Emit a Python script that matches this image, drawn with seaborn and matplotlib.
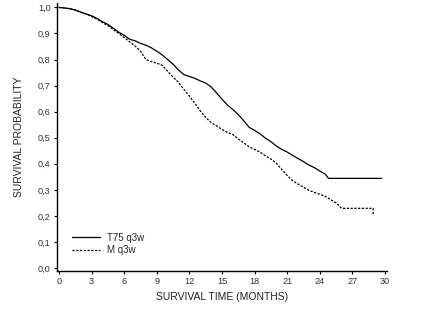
import matplotlib
matplotlib.use("Agg")
import matplotlib.pyplot as plt
import seaborn as sns
import pandas as pd
from matplotlib.lines import Line2D

# T75 q3w (solid) survival curve
t75_time = [0, 0.5, 1, 1.5, 2, 2.5, 3, 3.5, 4, 4.5, 5, 5.5, 6, 6.5, 7, 7.5, 8, 8.5, 9, 9.5,
            10, 10.5, 11, 11.5, 12, 12.5, 13, 13.5, 14, 14.5, 15, 15.5, 16, 16.5, 17, 17.5,
            18, 18.5, 19, 19.5, 20, 20.5, 21, 21.5, 22, 22.5, 23, 23.5, 24, 24.5, 24.8, 29.7]
t75_surv = [1.0, 0.998, 0.995, 0.99, 0.982, 0.975, 0.968, 0.958, 0.945, 0.935, 0.92, 0.905,
            0.893, 0.878, 0.872, 0.862, 0.855, 0.845, 0.832, 0.818, 0.8, 0.782, 0.76, 0.742,
            0.735, 0.728, 0.718, 0.71, 0.695, 0.672, 0.648, 0.625, 0.608, 0.588, 0.565, 0.54,
            0.528, 0.515, 0.498, 0.485, 0.468, 0.455, 0.445, 0.432, 0.42, 0.408, 0.395, 0.385,
            0.372, 0.36, 0.344, 0.344]

# M q3w (dashed)
m_time = [0, 0.5, 1, 1.5, 2, 2.5, 3, 3.5, 4, 4.5, 5, 5.5, 6, 6.5, 7, 7.5, 8, 8.5, 9, 9.5,
          10, 10.5, 11, 11.5, 12, 12.5, 13, 13.5, 14, 14.5, 15, 15.5, 16, 16.5, 17, 17.5,
          18, 18.5, 19, 19.5, 20, 20.5, 21, 21.5, 22, 22.5, 23, 23.5, 24, 24.5, 25, 25.5,
          26.0, 28.9, 28.9]
m_surv = [1.0, 0.998, 0.995, 0.99, 0.982, 0.975, 0.965, 0.955, 0.942, 0.93, 0.915, 0.9,
          0.885, 0.868, 0.852, 0.832, 0.8, 0.792, 0.786, 0.778, 0.755, 0.733, 0.712, 0.685,
          0.66, 0.632, 0.603, 0.578, 0.558, 0.545, 0.532, 0.52, 0.512, 0.495, 0.48, 0.465,
          0.455, 0.445, 0.43, 0.418, 0.402, 0.378, 0.355, 0.335, 0.322, 0.31, 0.298, 0.29,
          0.283, 0.275, 0.262, 0.25, 0.229, 0.229, 0.205]

series_names = ["T75 q3w", "M q3w"]
x_ticks = [0, 3, 6, 9, 12, 15, 18, 21, 24, 27, 30]
y_ticks = [0.0, 0.1, 0.2, 0.3, 0.4, 0.5, 0.6, 0.7, 0.8, 0.9, 1.0]
y_tick_labels = ["0,0", "0,1", "0,2", "0,3", "0,4", "0,5", "0,6", "0,7", "0,8", "0,9", "1,0"]

df = pd.concat([
    pd.DataFrame({"time": t75_time, "surv": t75_surv, "arm": series_names[0]}),
    pd.DataFrame({"time": m_time, "surv": m_surv, "arm": series_names[1]}),
], ignore_index=True)

sns.set_style("ticks")
plt.rcParams["font.family"] = ["Liberation Sans", "DejaVu Sans"]

fig = plt.figure(figsize=(4.43, 3.23), dpi=100)
ax = fig.add_axes([57 / 443, 1 - 271 / 323, (386.7 - 57) / 443, (271 - 3) / 323])

dash = (1.8, 1.2)
sns.lineplot(data=df, x="time", y="surv", hue="arm", style="arm",
             palette={series_names[0]: "black", series_names[1]: "black"},
             dashes={series_names[0]: "", series_names[1]: dash},
             sort=False, estimator=None, units="arm",
             linewidth=0.9, ax=ax, legend=False)

ax.set_xlim(-0.18, 30.15)
ax.set_ylim(-0.0115, 1.017)
ax.set_xticks(x_ticks)
ax.set_xticklabels([str(v) for v in x_ticks])
ax.set_yticks(y_ticks)
ax.set_yticklabels(y_tick_labels)
ax.tick_params(axis="both", length=2.5, width=0.8, pad=2, colors="black",
               labelcolor="#333333")
for lab in ax.get_xticklabels() + ax.get_yticklabels():
    lab.set_fontfamily(["Liberation Sans Narrow", "Liberation Sans", "DejaVu Sans"])
    lab.set_fontsize(6.6)
for s in ["top", "right"]:
    ax.spines[s].set_visible(False)
for s in ["left", "bottom"]:
    ax.spines[s].set_linewidth(1.0)
    ax.spines[s].set_color("black")

ax.set_xlabel("SURVIVAL TIME (MONTHS)", fontsize=7.5, labelpad=4, color="#222222")
ax.set_ylabel("SURVIVAL PROBABILITY", fontsize=7.5, labelpad=10, color="#222222")

handles = [Line2D([], [], color="black", lw=0.9, ls="-"),
           Line2D([], [], color="black", lw=0.9, ls=(0, dash))]
ax.legend(handles, series_names, loc="lower left", bbox_to_anchor=(0.033, 0.045),
          frameon=False, fontsize=7, handlelength=2.9, handletextpad=0.7,
          labelspacing=0.25, borderaxespad=0)

fig.savefig("out.png", dpi=100)
